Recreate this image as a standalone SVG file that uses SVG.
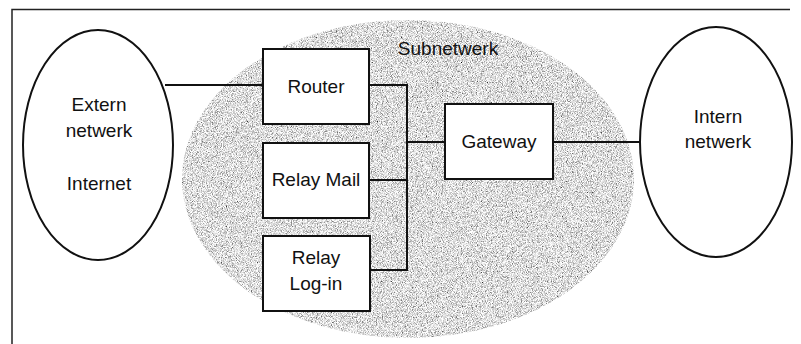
<svg xmlns="http://www.w3.org/2000/svg" width="801" height="344" viewBox="0 0 801 344">
  <defs>
    <!-- grainy grey tone for the subnetwork area -->
    <filter id="grain" x="0" y="0" width="100%" height="100%">
      <feTurbulence type="fractalNoise" baseFrequency="1.2" numOctaves="1" seed="3" result="noise"/>
      <feColorMatrix in="noise" type="matrix"
        values="2.2 0 0 0 -0.37
                2.2 0 0 0 -0.37
                2.2 0 0 0 -0.37
                0 0 0 0 1" result="tone"/>
      <feComposite in="tone" in2="SourceGraphic" operator="in"/>
    </filter>
  </defs>
  <style>
    .frame { fill: none; stroke: #222; stroke-width: 1.5; }
    .box { fill: #fff; stroke: #111; stroke-width: 2; }
    .net { fill: #fff; stroke: #111; stroke-width: 2; }
    .wire { fill: none; stroke: #111; stroke-width: 2; }
    text { font-family: "Liberation Sans", Arial, sans-serif; font-size: 19px; fill: #111; text-anchor: middle; }
  </style>

  <rect width="801" height="344" fill="#fff"/>

  <!-- page frame: top and left edges -->
  <path class="frame" d="M12,344 V9.5 H790"/>

  <!-- subnetwork area -->
  <g id="subnetwerk">
    <ellipse cx="408" cy="179" rx="226" ry="159" fill="#c8c8c8" filter="url(#grain)"/>
    <text x="448" y="55">Subnetwerk</text>
  </g>

  <!-- connectors -->
  <g id="connectors">
    <line class="wire" x1="165" y1="85" x2="263" y2="85"/>
    <polyline class="wire" points="369,85 407,85 407,270 370,270"/>
    <line class="wire" x1="369" y1="180" x2="407" y2="180"/>
    <line class="wire" x1="407" y1="142" x2="445" y2="142"/>
    <line class="wire" x1="553" y1="142" x2="641" y2="142"/>
  </g>

  <g id="extern">
    <ellipse class="net" cx="98" cy="145" rx="75" ry="115"/>
    <text x="99" y="111">Extern</text>
    <text x="99" y="137">netwerk</text>
    <text x="99" y="190">Internet</text>
  </g>

  <g id="router">
    <rect class="box" x="263" y="49" width="106" height="75"/>
    <text x="316" y="93">Router</text>
  </g>

  <g id="relay-mail">
    <rect class="box" x="263" y="143" width="106" height="75"/>
    <text x="316" y="186">Relay Mail</text>
  </g>

  <g id="relay-login">
    <rect class="box" x="263" y="236" width="107" height="75"/>
    <text x="316" y="264">Relay</text>
    <text x="316" y="290">Log-in</text>
  </g>

  <g id="gateway">
    <rect class="box" x="445" y="104" width="108" height="75"/>
    <text x="499" y="148">Gateway</text>
  </g>

  <g id="intern">
    <ellipse class="net" cx="716" cy="142" rx="76" ry="115"/>
    <text x="718" y="123">Intern</text>
    <text x="718" y="148">netwerk</text>
  </g>
</svg>
